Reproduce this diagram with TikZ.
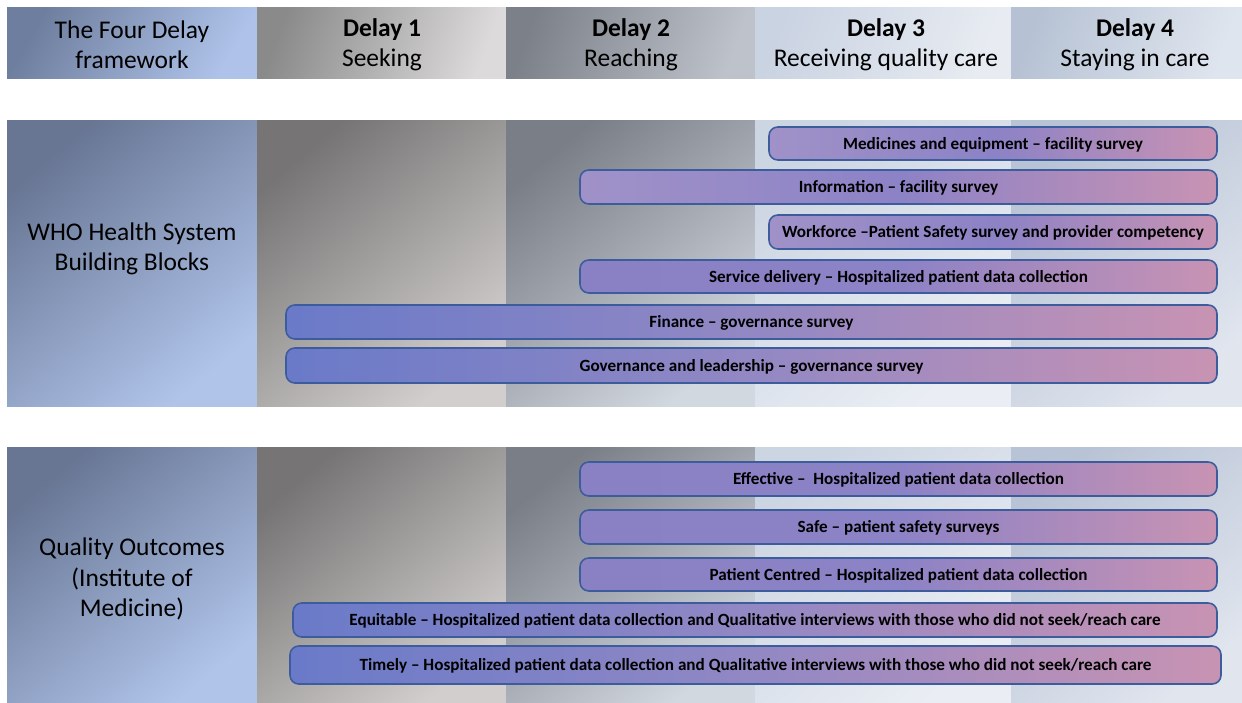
\documentclass[tikz,border=0pt]{standalone}
\usepackage{fontspec}
\setmainfont{Carlito}
\definecolor{barline}{HTML}{3D5C9C}
\definecolor{barright}{HTML}{C893B3}
\definecolor{barmid}{HTML}{8C82C6}
\definecolor{longleft}{HTML}{6A7AC8}
\definecolor{longmid}{HTML}{9288C4}
\definecolor{lightleft}{HTML}{A092C8}
\definecolor{midleft}{HTML}{8A80C4}
% header cell colours
\definecolor{hAa}{HTML}{6E7E9E}\definecolor{hAb}{HTML}{AFC3EA}
\definecolor{hBa}{HTML}{8A8A8A}\definecolor{hBb}{HTML}{DCDADA}
\definecolor{hCa}{HTML}{7C8088}\definecolor{hCb}{HTML}{BEC2CA}
\definecolor{hDa}{HTML}{CAD3E2}\definecolor{hDb}{HTML}{E8ECF2}
\definecolor{hEa}{HTML}{B6C2D4}\definecolor{hEb}{HTML}{DFE5EE}
% body cell colours
\definecolor{cAa}{HTML}{687694}\definecolor{cAb}{HTML}{B0C4EA}
\definecolor{cBa}{HTML}{767474}\definecolor{cBb}{HTML}{D2CECE}
\definecolor{cCa}{HTML}{7A7E86}\definecolor{cCb}{HTML}{D2D8E0}
\definecolor{cDa}{HTML}{CCD5E2}\definecolor{cDb}{HTML}{EAEEF4}
\definecolor{cEa}{HTML}{B8C3D5}\definecolor{cEb}{HTML}{E0E5EE}
\begin{document}
\begin{tikzpicture}[x=0.02cm,y=-0.02cm,
  bar/.style={draw=barline, line width=0.9pt, rounded corners=5pt, inner sep=0pt,
    font=\fontsize{9.75pt}{11pt}\selectfont\bfseries, text=black, anchor=center,
    text height=7pt, text depth=0.6pt},
  shortA/.style={bar, left color=lightleft, right color=barright, middle color=barmid},
  shortB/.style={bar, left color=midleft, right color=barright, middle color=barmid},
  longbar/.style={bar, left color=longleft, right color=barright, middle color=longmid},
  head/.style={font=\fontsize{14.5pt}{17pt}\selectfont, align=center, text=black, inner sep=0pt},
  rowlabel/.style={font=\fontsize{14.5pt}{17.3pt}\selectfont, align=center, text=black, inner sep=0pt}
]
\useasboundingbox (0,0) rectangle (1242,703);
\fill[white] (0,0) rectangle (1242,703);
% header row
\shade[top color=hAa, bottom color=hAb, shading angle=60] (7,7) rectangle (257,78);
\shade[top color=hBa, bottom color=hBb, shading angle=70] (257,7) rectangle (506,78);
\shade[top color=hCa, bottom color=hCb, shading angle=70] (506,7) rectangle (755,78);
\shade[top color=hDa, bottom color=hDb, shading angle=70] (755,7) rectangle (1011,78);
\shade[top color=hEa, bottom color=hEb, shading angle=70] (1011,7) rectangle (1242,78);
% rows 2 and 3
\foreach \ya/\yb in {120/406, 447/703}{
  \shade[top color=cAa, bottom color=cAb, shading angle=40] (7,\ya) rectangle (257,\yb);
  \shade[top color=cBa, bottom color=cBb, shading angle=40] (257,\ya) rectangle (506,\yb);
  \shade[top color=cCa, bottom color=cCb, shading angle=40] (506,\ya) rectangle (755,\yb);
  \shade[top color=cDa, bottom color=cDb, shading angle=40] (755,\ya) rectangle (1011,\yb);
  \shade[top color=cEa, bottom color=cEb, shading angle=40] (1011,\ya) rectangle (1242,\yb);
}
% header texts
\node[head] (h0) at (132,45) {The Four Delay\\framework};
\node[head] (h1) at (382,45) {\textbf{Delay 1}\\Seeking};
\node[head] (h2) at (631,45) {\textbf{Delay 2}\\Reaching};
\node[head] (h3) at (886,45) {\textbf{Delay 3}\\Receiving quality care};
\node[head] (h4) at (1135,45) {\textbf{Delay 4}\\Staying in care};
% row labels
\node[rowlabel] (r1) at (132,249) {WHO Health System\\Building Blocks};
\node[rowlabel] (r2) at (132,579) {Quality Outcomes\\(Institute of\\Medicine)};
% bars, WHO building blocks
\node[shortA, minimum width=448*0.02cm, minimum height=33*0.02cm] (b1) at (993,143.5) {Medicines and equipment -- facility survey};
\node[shortA, minimum width=637*0.02cm, minimum height=34*0.02cm] (b2) at (898.5,187) {Information -- facility survey};
\node[shortA, minimum width=448*0.02cm, minimum height=34*0.02cm] (b3) at (993,232) {Workforce --Patient Safety survey and provider competency};
\node[shortB, minimum width=637*0.02cm, minimum height=33*0.02cm] (b4) at (898.5,276.5) {Service delivery -- Hospitalized patient data collection};
\node[longbar, minimum width=931*0.02cm, minimum height=34*0.02cm] (b5) at (751.5,322) {Finance -- governance survey};
\node[longbar, minimum width=931*0.02cm, minimum height=35*0.02cm] (b6) at (751.5,365.5) {Governance and leadership -- governance survey};
% bars, quality outcomes
\node[shortB, minimum width=637*0.02cm, minimum height=34*0.02cm] (q1) at (898.5,479) {Effective --\ \ Hospitalized patient data collection};
\node[shortB, minimum width=637*0.02cm, minimum height=34*0.02cm] (q2) at (898.5,527) {Safe -- patient safety surveys};
\node[shortB, minimum width=637*0.02cm, minimum height=33*0.02cm] (q3) at (898.5,574.5) {Patient Centred -- Hospitalized patient data collection};
\node[longbar, minimum width=924*0.02cm, minimum height=34*0.02cm] (q4) at (755,620) {Equitable -- Hospitalized patient data collection and Qualitative interviews with those who did not seek/reach care};
\node[longbar, minimum width=931*0.02cm, minimum height=38*0.02cm] (q5) at (755.5,665) {Timely -- Hospitalized patient data collection and Qualitative interviews with those who did not seek/reach care};
\end{tikzpicture}
\end{document}
